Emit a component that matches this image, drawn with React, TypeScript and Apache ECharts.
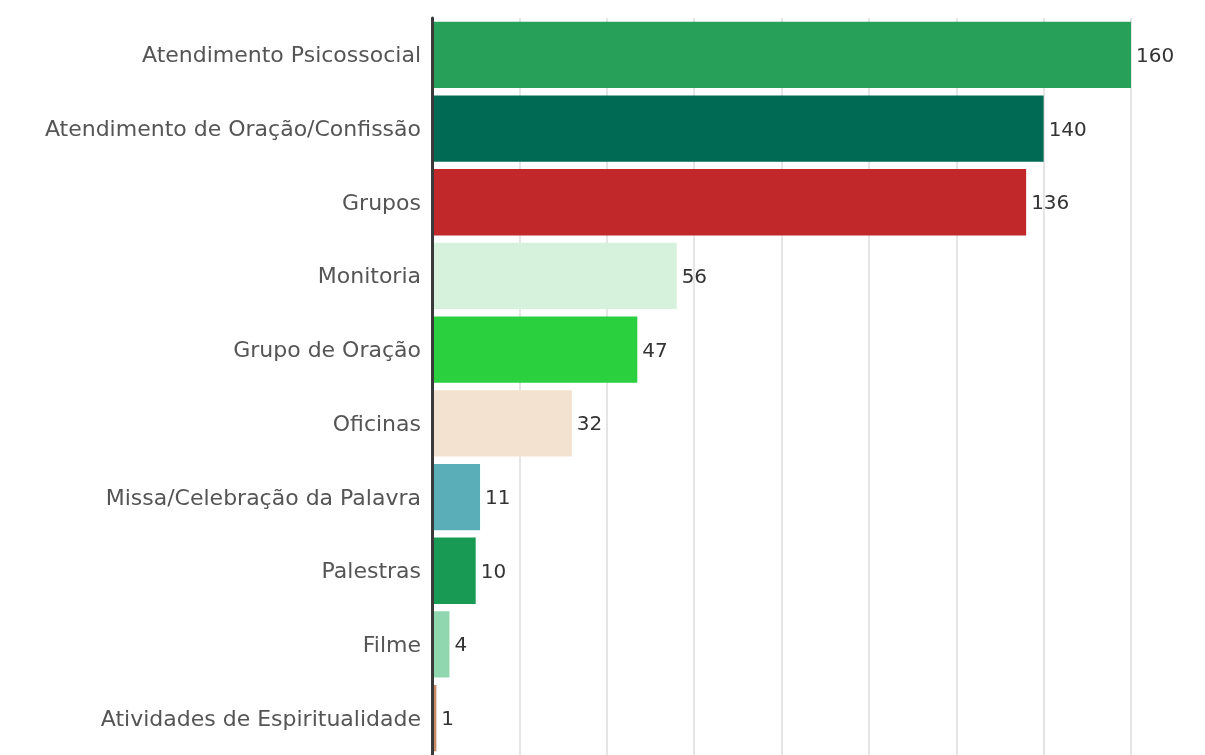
import React, { useEffect, useRef } from "react";
import * as echarts from "echarts";

const categories = [
  "Atendimento Psicossocial",
  "Atendimento de Oração/Confissão",
  "Grupos",
  "Monitoria",
  "Grupo de Oração",
  "Oficinas",
  "Missa/Celebração da Palavra",
  "Palestras",
  "Filme",
  "Atividades de Espiritualidade",
];
const values = [160, 140, 136, 56, 47, 32, 11, 10, 4, 1];
const colors = [
  "#27a05a",
  "#006a54",
  "#c1282a",
  "#d6f1dc",
  "#2bd03f",
  "#f3e2cf",
  "#5aaeb8",
  "#189a54",
  "#90d7b0",
  "#c98b63",
];

export default function App() {
  const ref = useRef<HTMLDivElement>(null);
  useEffect(() => {
    if (!ref.current) return;
    const chart = echarts.init(ref.current, undefined, { renderer: "svg" });
    chart.setOption({
      animation: false,
      grid: { left: 432, right: 74, top: 18, bottom: -5, containLabel: false },
      xAxis: {
        type: "value",
        min: 0,
        max: 160,
        interval: 20,
        axisLabel: { show: false },
        axisLine: { show: false },
        axisTick: { show: false },
        splitLine: { show: true, lineStyle: { color: "#dcdcdc", width: 1.5 } },
      },
      yAxis: {
        type: "category",
        inverse: true,
        data: categories,
        z: 5,
        axisTick: { show: false },
        axisLine: { show: true, lineStyle: { color: "#3a3a3a", width: 3 } },
        axisLabel: {
          margin: 11,
          fontFamily: "DejaVu Sans",
          fontSize: 22,
          color: "#555555",
        },
      },
      series: [
        {
          type: "bar",
          data: values.map((v, i) => ({ value: v, itemStyle: { color: colors[i] } })),
          barCategoryGap: "10%",
          label: {
            show: true,
            position: "right",
            distance: 5,
            fontFamily: "DejaVu Sans",
            fontSize: 20,
            color: "#333333",
          },
        },
      ],
    });
    return () => chart.dispose();
  }, []);
  return (
    <div
      ref={ref}
      style={{ position: "fixed", left: 0, top: 0, width: 1205, height: 755 }}
    />
  );
}
